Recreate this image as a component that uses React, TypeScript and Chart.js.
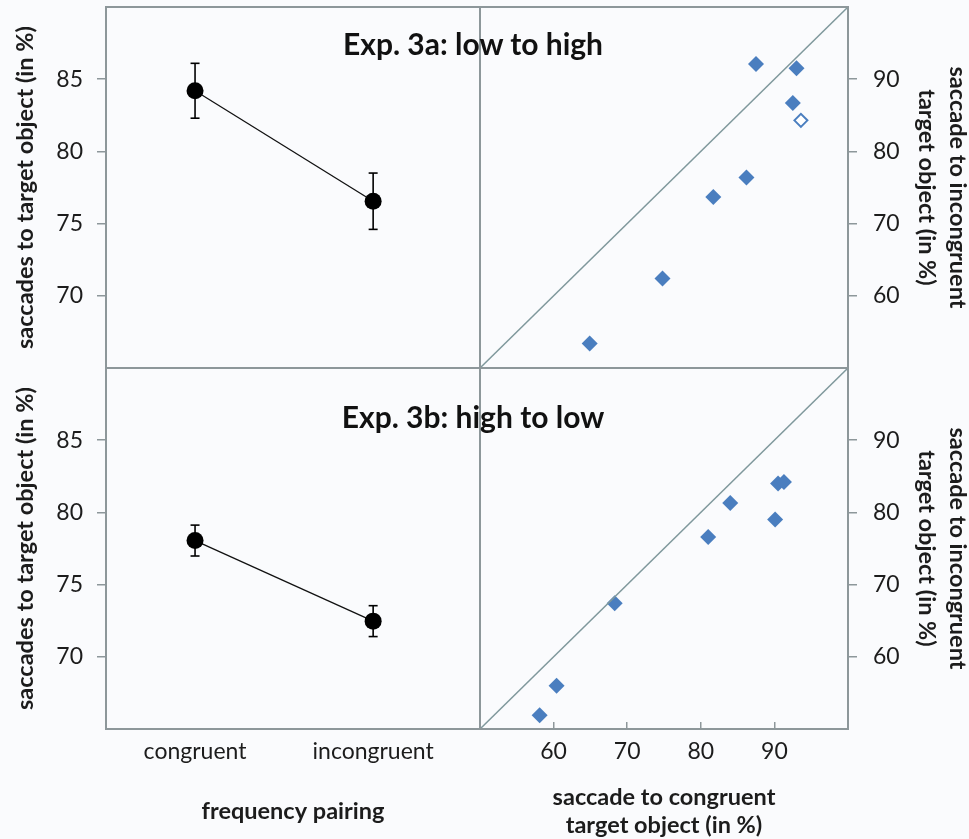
import React, { useEffect, useRef } from 'react';
import { Chart, registerables } from 'chart.js';

Chart.register(...registerables);

const FONT = 'Lato, "Open Sans", sans-serif';
const TEXT = '#1c1c1c';
const FRAME = '#8d979a';
const DIAG = '#7f989c';
const BLUE = '#4a7ebf';

// ---------- data ----------
const categories = ['congruent', 'incongruent'];
const means3a = [84.2, 76.55];
const errors3a = [1.9, 1.95];
const means3b = [78.05, 72.47];
const errors3b = [1.07, 1.07];
const leftTicks = [70, 75, 80, 85];
const rightTicks = [60, 70, 80, 90];
const diagonal = [50, 100];
const cong3a = [64.9, 74.8, 81.7, 86.2, 87.5, 93.0, 92.5];
const incong3a = [53.4, 62.4, 73.7, 76.4, 92.1, 91.5, 86.7];
const congOutlier3a = [93.6];
const incongOutlier3a = [84.3];
const cong3b = [58.1, 60.4, 68.3, 81.0, 84.0, 90.1, 90.5, 91.3];
const incong3b = [51.9, 56.0, 67.4, 76.6, 81.3, 79.0, 84.0, 84.2];

const framePlugin = {
  id: 'frame',
  afterDraw(chart: any) {
    const { ctx, chartArea: a } = chart;
    ctx.save();
    ctx.strokeStyle = FRAME;
    ctx.lineWidth = 2;
    ctx.strokeRect(a.left, a.top, a.right - a.left, a.bottom - a.top);
    ctx.restore();
  },
};

const noPad = (s: any) => {
  s.paddingTop = 0;
  s.paddingBottom = 0;
  s.paddingLeft = 0;
  s.paddingRight = 0;
};

const tickFont = { family: FONT, size: 23 };
const titleFont = { family: FONT, size: 23.5, weight: 'bold' as const };

function leftConfig(means: number[], errors: number[], showX: boolean, padTop: number, padBottom: number): any {
  const errorSets = means.map((m, i) => ({
    data: [
      { x: i + 1, y: m - errors[i] },
      { x: i + 1, y: m + errors[i] },
    ],
    borderColor: '#000',
    borderWidth: 1.6,
    pointStyle: 'line',
    pointRadius: 4.5,
    pointBorderWidth: 1.6,
    pointBorderColor: '#000',
  }));
  return {
    type: 'line',
    data: {
      datasets: [
        ...errorSets,
        {
          data: means.map((m, i) => ({ x: i + 1, y: m })),
          borderColor: '#111',
          borderWidth: 1.3,
          pointRadius: 8.5,
          pointBackgroundColor: '#000',
          pointBorderColor: '#000',
          pointBorderWidth: 0,
        },
      ],
    },
    options: {
      animation: false,
      responsive: false,
      layout: { autoPadding: false, padding: { top: padTop, bottom: padBottom, left: 0, right: 1 } },
      plugins: { legend: { display: false }, tooltip: { enabled: false } },
      scales: {
        x: {
          type: 'linear',
          min: 0.5,
          max: 2.6,
          display: showX,
          afterBuildTicks: (s: any) => {
            s.ticks = categories.map((_, i) => ({ value: i + 1 }));
          },
          afterFit: (s: any) => {
            noPad(s);
            s.height = showX ? 110 : 0;
          },
          grid: { display: false, drawTicks: false },
          border: { display: false },
          ticks: {
            display: showX,
            font: { family: FONT, size: 23 },
            color: TEXT,
            padding: 9,
            maxRotation: 0,
            autoSkip: false,
            callback: (v: number) => categories[Math.round(v) - 1] ?? '',
          },
          title: {
            display: showX,
            text: 'frequency pairing',
            font: titleFont,
            color: TEXT,
            padding: { top: 0, bottom: 13 },
          },
        },
        y: {
          min: 65,
          max: 90,
          afterBuildTicks: (s: any) => {
            s.ticks = leftTicks.map((v) => ({ value: v }));
          },
          afterFit: (s: any) => {
            noPad(s);
            s.width = 106;
          },
          grid: { drawOnChartArea: false, drawTicks: true, tickLength: 9, color: FRAME, lineWidth: 1.5 },
          border: { display: false },
          ticks: { font: tickFont, color: TEXT, padding: 14 },
          title: {
            display: true,
            text: 'saccades to target object (in %)',
            font: titleFont,
            color: TEXT,
            padding: { top: 11, bottom: 0 },
          },
        },
      },
    },
    plugins: [framePlugin],
  };
}

function rightConfig(
  xs: number[],
  ys: number[],
  openX: number[],
  openY: number[],
  showX: boolean,
  padTop: number,
  padBottom: number
): any {
  return {
    type: 'scatter',
    data: {
      datasets: [
        {
          data: diagonal.map((v) => ({ x: v, y: v })),
          showLine: true,
          borderColor: DIAG,
          borderWidth: 1.5,
          pointRadius: 0,
        },
        {
          data: xs.map((x, i) => ({ x, y: ys[i] })),
          pointStyle: 'rectRot',
          pointRadius: 8,
          backgroundColor: BLUE,
          borderColor: BLUE,
          borderWidth: 0,
        },
        {
          data: openX.map((x, i) => ({ x, y: openY[i] })),
          pointStyle: 'rectRot',
          pointRadius: 6.5,
          backgroundColor: '#ffffff',
          borderColor: BLUE,
          borderWidth: 2,
        },
      ],
    },
    options: {
      animation: false,
      responsive: false,
      layout: { autoPadding: false, padding: { top: padTop, bottom: padBottom, left: 0, right: 0 } },
      plugins: { legend: { display: false }, tooltip: { enabled: false } },
      scales: {
        x: {
          type: 'linear',
          min: 50,
          max: 100,
          display: showX,
          afterBuildTicks: (s: any) => {
            s.ticks = rightTicks.map((v) => ({ value: v }));
          },
          afterFit: (s: any) => {
            noPad(s);
            s.height = showX ? 110 : 0;
          },
          grid: { drawOnChartArea: false, drawTicks: true, tickLength: -7, color: FRAME, lineWidth: 1.5 },
          border: { display: false },
          ticks: { display: showX, font: tickFont, color: TEXT, padding: 16, maxRotation: 0, autoSkip: false },
          title: {
            display: showX,
            text: ['saccade to congruent', 'target object (in %)'],
            font: { ...titleFont, lineHeight: 1.19 },
            color: TEXT,
            padding: { top: 0, bottom: 0 },
          },
        },
        y: {
          type: 'linear',
          position: 'right',
          min: 50,
          max: 100,
          afterBuildTicks: (s: any) => {
            s.ticks = rightTicks.map((v) => ({ value: v }));
          },
          afterFit: (s: any) => {
            noPad(s);
            s.width = 121;
          },
          grid: { drawOnChartArea: false, drawTicks: true, tickLength: 9, color: FRAME, lineWidth: 1.5 },
          border: { display: false },
          ticks: { font: tickFont, color: TEXT, padding: 16 },
          title: {
            display: true,
            text: ['saccade to incongruent', 'target object (in %)'],
            font: { ...titleFont, lineHeight: 1.32 },
            color: TEXT,
            padding: { top: -4.5, bottom: 0 },
          },
        },
      },
    },
    plugins: [framePlugin],
  };
}

function ChartCanvas(props: { make: () => any; left: number; top: number; width: number; height: number }) {
  const ref = useRef<HTMLCanvasElement>(null);
  useEffect(() => {
    const chart = new Chart(ref.current as HTMLCanvasElement, props.make());
    return () => chart.destroy();
  }, []);
  return (
    <canvas
      ref={ref}
      width={props.width}
      height={props.height}
      style={{ position: 'absolute', left: props.left, top: props.top, width: props.width, height: props.height }}
    />
  );
}

const headStyle = (top: number): React.CSSProperties => ({
  position: 'absolute',
  left: 173,
  top,
  width: 600,
  textAlign: 'center',
  fontFamily: FONT,
  fontWeight: 'bold',
  fontSize: 30,
  lineHeight: '30px',
  color: '#111',
  zIndex: 5,
  whiteSpace: 'nowrap',
});

export default function App() {
  return (
    <div
      style={{
        position: 'absolute',
        left: 0,
        top: 0,
        width: 969,
        height: 839,
        background: '#fafbfd',
        overflow: 'hidden',
      }}
    >
      <ChartCanvas make={() => leftConfig(means3a, errors3a, false, 7, 1)} left={0} top={0} width={481} height={369} />
      <ChartCanvas make={() => leftConfig(means3b, errors3b, true, 0, 0)} left={0} top={368} width={481} height={471} />
      <ChartCanvas
        make={() => rightConfig(cong3a, incong3a, congOutlier3a, incongOutlier3a, false, 7, 1)}
        left={480}
        top={0}
        width={489}
        height={369}
      />
      <ChartCanvas make={() => rightConfig(cong3b, incong3b, [], [], true, 0, 0)} left={480} top={368} width={489} height={471} />
      <div style={headStyle(28)}>Exp. 3a: low to high</div>
      <div style={headStyle(401)}>Exp. 3b: high to low</div>
    </div>
  );
}
